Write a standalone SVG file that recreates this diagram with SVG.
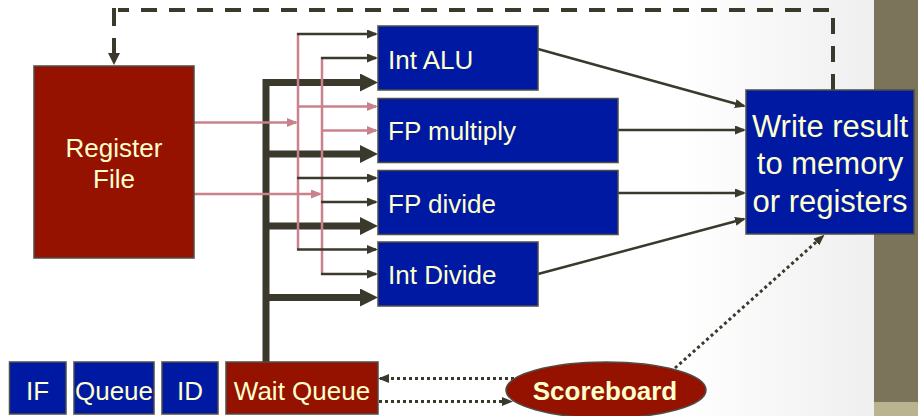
<svg xmlns="http://www.w3.org/2000/svg" width="918" height="416" viewBox="0 0 918 416">
  <defs>
    <linearGradient id="bgFade" x1="0" y1="0" x2="874" y2="0" gradientUnits="userSpaceOnUse">
      <stop offset="0" stop-color="#ffffff"/>
      <stop offset="0.78" stop-color="#ffffff"/>
      <stop offset="1" stop-color="#efefef"/>
    </linearGradient>
    <!-- thick bus arrowhead: base at refX so the wide stroke never pokes past the tip -->
    <marker id="headThick" markerUnits="userSpaceOnUse" markerWidth="18" markerHeight="18" viewBox="0 0 18 18" refX="9" refY="9" orient="auto">
      <path d="M0,0 L18,9 L0,18 z" fill="#3b382c"/>
    </marker>
    <marker id="headDark" markerUnits="userSpaceOnUse" markerWidth="11" markerHeight="9" viewBox="0 0 11 9" refX="9" refY="4.5" orient="auto">
      <path d="M0,0 L11,4.5 L0,9 z" fill="#3b382c"/>
    </marker>
    <marker id="headPink" markerUnits="userSpaceOnUse" markerWidth="11" markerHeight="9" viewBox="0 0 11 9" refX="9" refY="4.5" orient="auto">
      <path d="M0,0 L11,4.5 L0,9 z" fill="#c9818b"/>
    </marker>
    <marker id="headDash" markerUnits="userSpaceOnUse" markerWidth="12" markerHeight="12" viewBox="0 0 12 12" refX="1" refY="6" orient="auto">
      <path d="M0,0 L12,6 L0,12 z" fill="#3b382c"/>
    </marker>
    <style>
      .unit { fill: #0019a3; stroke: #4e4d44; stroke-width: 1.5; }
      .store { fill: #961200; stroke: #4e4d44; stroke-width: 1.5; }
      .lbl { font-family: "Liberation Sans", Arial, sans-serif; font-size: 26px; fill: #ffffcc; }
      .big { font-size: 31px; }
      .bold { font-weight: bold; }
      .bus { stroke: #3b382c; stroke-width: 7; fill: none; }
      .thin { stroke: #3b382c; stroke-width: 2.5; fill: none; }
      .pink { stroke: #c9818b; stroke-width: 2.5; fill: none; }
      .dash { stroke: #3b382c; stroke-width: 4; fill: none; stroke-dasharray: 16 12; }
      .seg { stroke: #3b382c; stroke-width: 4; fill: none; }
      .dot { stroke: #3b382c; stroke-width: 3; fill: none; stroke-dasharray: 3 3; }
    </style>
  </defs>

  <!-- slide background and right-hand band -->
  <rect x="0" y="0" width="918" height="416" fill="url(#bgFade)"/>
  <rect x="874" y="0" width="44" height="402" fill="#7b735a"/>
  <rect x="874" y="402" width="44" height="14" fill="#b9b38f"/>

  <g id="connectors">
    <!-- operand bus from the wait queue -->
    <path class="bus" d="M266,362 V82.5 H362"/>
    <line class="bus" x1="266" y1="82.5" x2="369" y2="82.5" marker-end="url(#headThick)"/>
    <line class="bus" x1="266" y1="154" x2="369" y2="154" marker-end="url(#headThick)"/>
    <line class="bus" x1="266" y1="226" x2="369" y2="226" marker-end="url(#headThick)"/>
    <line class="bus" x1="266" y1="297.5" x2="369" y2="297.5" marker-end="url(#headThick)"/>

    <!-- register file read ports -->
    <line class="pink" x1="194" y1="122.5" x2="296" y2="122.5" marker-end="url(#headPink)"/>
    <line class="pink" x1="194" y1="194" x2="320" y2="194" marker-end="url(#headPink)"/>
    <line class="pink" x1="298" y1="33" x2="298" y2="250"/>
    <line class="pink" x1="322" y1="57" x2="322" y2="275"/>
    <line class="pink" x1="298" y1="106.5" x2="376" y2="106.5" marker-end="url(#headPink)"/>
    <line class="pink" x1="322" y1="130.5" x2="376" y2="130.5" marker-end="url(#headPink)"/>

    <!-- operand taps into the units -->
    <line class="thin" x1="297" y1="34" x2="376" y2="34" marker-end="url(#headDark)"/>
    <line class="thin" x1="321" y1="58" x2="376" y2="58" marker-end="url(#headDark)"/>
    <line class="thin" x1="297" y1="178" x2="376" y2="178" marker-end="url(#headDark)"/>
    <line class="thin" x1="321" y1="202" x2="376" y2="202" marker-end="url(#headDark)"/>
    <line class="thin" x1="297" y1="249.5" x2="376" y2="249.5" marker-end="url(#headDark)"/>
    <line class="thin" x1="321" y1="274" x2="376" y2="274" marker-end="url(#headDark)"/>

    <!-- unit results to write-back -->
    <line class="thin" x1="538" y1="49" x2="744" y2="106" marker-end="url(#headDark)"/>
    <line class="thin" x1="618" y1="130" x2="744" y2="130" marker-end="url(#headDark)"/>
    <line class="thin" x1="618" y1="193" x2="744" y2="193" marker-end="url(#headDark)"/>
    <line class="thin" x1="538" y1="274" x2="744" y2="219" marker-end="url(#headDark)"/>

    <!-- write-back feedback to the register file -->
    <path class="dash" d="M833,90 V10 H118"/>
    <line class="seg" x1="114" y1="8" x2="114" y2="26"/>
    <line class="seg" x1="114" y1="38" x2="114" y2="54" marker-end="url(#headDash)"/>

    <!-- scoreboard control paths -->
    <line class="dot" x1="520" y1="378.5" x2="380" y2="378.5" marker-end="url(#headDark)"/>
    <line class="dot" x1="379" y1="401.5" x2="511" y2="401.5" marker-end="url(#headDark)"/>
    <line class="dot" x1="675" y1="368" x2="823" y2="236" marker-end="url(#headDark)"/>
  </g>

  <g id="register-file">
    <rect class="store" x="34" y="66" width="160" height="192"/>
    <text class="lbl" x="114" y="157" text-anchor="middle">Register</text>
    <text class="lbl" x="114" y="188" text-anchor="middle">File</text>
  </g>

  <g id="int-alu">
    <rect class="unit" x="378" y="26" width="160" height="64"/>
    <text class="lbl" x="388" y="69">Int ALU</text>
  </g>

  <g id="fp-multiply">
    <rect class="unit" x="378" y="98.5" width="240" height="64"/>
    <text class="lbl" x="388" y="140">FP multiply</text>
  </g>

  <g id="fp-divide">
    <rect class="unit" x="378" y="170.5" width="240" height="64"/>
    <text class="lbl" x="388" y="212.5">FP divide</text>
  </g>

  <g id="int-divide">
    <rect class="unit" x="378" y="242" width="160" height="64"/>
    <text class="lbl" x="388" y="284">Int Divide</text>
  </g>

  <g id="write-result">
    <rect class="unit" x="746" y="90" width="168" height="144"/>
    <text class="lbl big" x="830" y="137" text-anchor="middle">Write result</text>
    <text class="lbl big" x="830" y="174" text-anchor="middle">to memory</text>
    <text class="lbl big" x="830" y="212" text-anchor="middle">or registers</text>
  </g>

  <g id="if">
    <rect class="unit" x="9.5" y="362" width="56.5" height="52"/>
    <text class="lbl" x="37.5" y="400" text-anchor="middle">IF</text>
  </g>

  <g id="queue">
    <rect class="unit" x="74" y="362" width="80" height="52"/>
    <text class="lbl" x="114" y="400" text-anchor="middle">Queue</text>
  </g>

  <g id="id">
    <rect class="unit" x="162" y="362" width="56" height="52"/>
    <text class="lbl" x="190" y="400" text-anchor="middle">ID</text>
  </g>

  <g id="wait-queue">
    <rect class="store" x="226" y="362" width="152" height="52"/>
    <text class="lbl" x="302" y="400" text-anchor="middle">Wait Queue</text>
  </g>

  <g id="scoreboard">
    <ellipse class="store" cx="606" cy="390" rx="100" ry="28"/>
    <text class="lbl bold" x="605" y="400" text-anchor="middle">Scoreboard</text>
  </g>
</svg>
